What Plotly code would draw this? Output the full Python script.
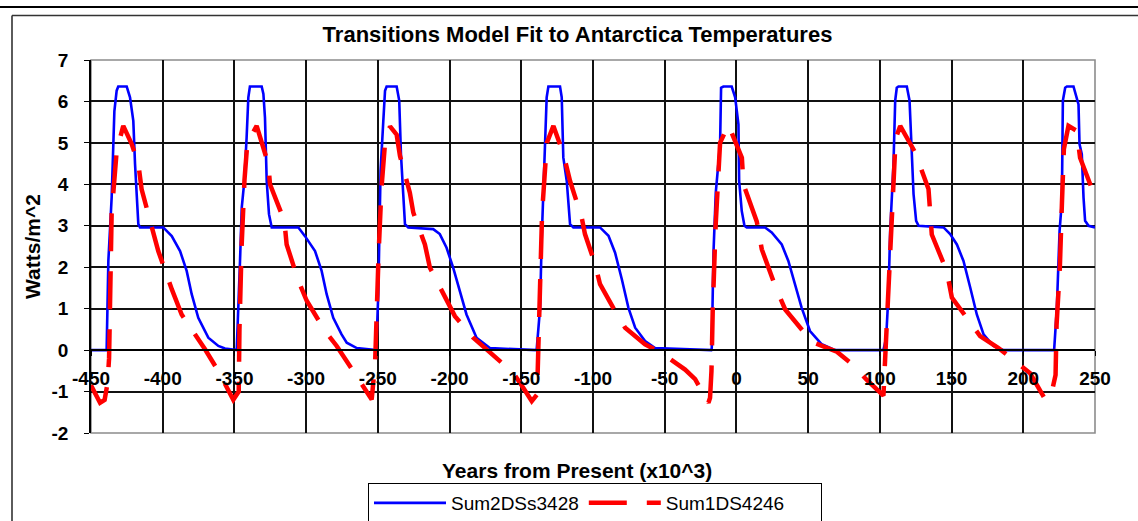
import plotly.graph_objects as go

# Sum2DSs3428 (blue, solid)
years_blue = [
    -450, -439.1, -437.9, -435.6, -433.7, -432.1, -431.0, -425.1, -422.8, -420.5,
    -419.3, -418.1, -417.0, -415.8, -399.6, -393.7, -387.9, -383.3, -379.8, -375.2,
    -368.2, -361.2, -356.6, -348.4,
    -347.3, -346.1, -344.9, -343.1, -341.5, -340.3, -339.2, -331.0, -329.8, -328.7,
    -327.5, -325.9, -324.0, -305.4, -300.8, -293.8, -289.2, -285.7, -281.1, -275.3,
    -271.7, -264.7, -251.3,
    -250.8, -249.7, -249.0, -248.1, -246.2, -245.0, -243.9, -236.9, -235.1, -233.9,
    -232.3, -231.1, -228.8, -211.4, -206.8, -202.1, -197.5, -192.8, -188.2, -181.2,
    -171.9, -139.3,
    -136.9, -135.8, -134.6, -133.5, -132.3, -131.1, -123.0, -121.8, -120.7, -118.3,
    -116.0, -113.7, -95.1, -89.2, -84.6, -79.9, -75.3, -70.6, -63.7, -56.7, -17.6,
    -17.2, -16.0, -14.4, -11.4, -10.7, -9.1, -3.3, -0.9, 1.4, 1.9,
    3.7, 5.6, 7.2, 20.0, 24.6, 31.6, 36.2, 40.9, 45.5, 51.3, 59.5, 68.8, 102.5,
    104.4, 106.0, 107.2, 108.3, 109.5, 110.7, 111.8, 113.0, 118.8, 120.7,
    122.3, 123.5, 125.3, 127.0, 144.4, 149.0, 153.7, 158.3, 163.0, 167.6,
    172.3, 179.2, 186.2, 221.5,
    223.4, 225.3, 226.9, 227.6, 229.2, 230.4, 235.0, 237.3, 238.5, 239.2,
    240.8, 242.0, 243.1, 245.5, 250.0,
]
watts_blue = [
    0.0, 0.0, 2.15, 3.68, 5.77, 6.26, 6.36, 6.36, 6.10, 5.53,
    4.49, 3.68, 3.04, 2.96, 2.96, 2.75, 2.39, 1.91, 1.35, 0.78,
    0.30, 0.10, 0.04, 0.0,
    0.94, 2.15, 3.44, 4.08, 5.13, 6.10, 6.36, 6.36, 6.18, 5.61,
    4.08, 3.28, 2.96, 2.96, 2.75, 2.39, 1.91, 1.35, 0.78, 0.38,
    0.18, 0.05, 0.0,
    0.31, 1.36, 2.64, 4.33, 5.53, 6.26, 6.36, 6.36, 6.02, 4.73,
    3.76, 3.04, 2.96, 2.92, 2.80, 2.47, 1.99, 1.42, 0.86, 0.30,
    0.05, 0.0,
    1.02, 2.64, 3.92, 4.73, 6.10, 6.36, 6.36, 6.10, 4.65, 4.08,
    3.04, 2.96, 2.96, 2.76, 2.35, 1.71, 1.02, 0.54, 0.22, 0.05, 0.0,
    0.05, 2.35, 3.80, 4.97, 6.33, 6.36, 6.36, 6.10, 5.45, 4.08,
    3.36, 3.00, 2.96, 2.96, 2.84, 2.55, 2.15, 1.59, 1.02, 0.46, 0.14, 0.0, 0.0,
    0.30, 1.35, 2.87, 3.52, 4.49, 6.02, 6.33, 6.36, 6.36, 6.02,
    4.81, 3.76, 3.12, 3.00, 2.96, 2.80, 2.55, 2.15, 1.51, 0.86,
    0.38, 0.10, 0.0, 0.0,
    1.02, 2.87, 3.60, 6.02, 6.33, 6.36, 6.36, 6.10, 5.93, 4.97,
    4.73, 3.68, 3.12, 3.00, 2.96,
]

# Sum1DS4246 (red, dashed)
years_red = [
    -450.0, -443.7, -440.5, -438.5, -437.4, -436.7, -435.6, -432.1, -427.5, -421.6,
    -417.0, -414.7, -407.7, -403.1, -393.7, -386.8, -370.5, -361.2, -350.8,
    -347.0, -346.5, -345.0, -343.0, -341.0, -334.5, -326.4, -325.2, -315.2, -313.6,
    -305.4, -299.6, -286.8, -278.7, -263.6, -254.3,
    -251.9, -251.0, -249.5, -247.5, -245.0, -241.5, -236.9, -234.6, -227.7, -225.3,
    -217.2, -213.7, -202.1, -196.3, -183.5, -174.3, -155.6, -149.8, -142.7,
    -139.0, -138.5, -137.5, -135.5, -132.2, -127.6, -120.6, -116.0, -107.9, -105.6,
    -98.6, -95.1, -84.6, -77.6, -63.7, -52.1, -35.8, -28.8, -19.5,
    -18.4, -17.4, -16.5, -14.5, -11.4, -5.6, 3.8, 4.9, 14.2, 17.7,
    27.0, 34.0, 52.6, 70.0, 79.3, 90.9, 102.5,
    103.7, 105.5, 107.5, 109.5, 111.0, 114.2, 121.1, 124.6, 133.9, 136.2,
    146.6, 150.2, 169.9, 182.7, 204.8, 215.3,
    219.0, 222.5, 223.2, 225.5, 227.0, 228.3, 231.5, 237.3, 239.6, 248.9, 250.0,
]
watts_red = [
    -0.85, -1.27, -1.20, -0.80, -0.20, 1.50, 3.30, 4.80, 5.41, 4.97,
    4.49, 3.88, 2.96, 2.39, 1.47, 0.86, 0.02, -0.51, -1.20,
    -1.00, 0.50, 2.50, 4.10, 5.00, 5.41, 4.49, 4.00, 3.12, 2.55,
    1.67, 1.19, 0.46, 0.10, -0.71, -1.19,
    -0.30, 0.80, 2.30, 3.90, 5.00, 5.40, 5.20, 4.69, 3.80, 3.32,
    2.55, 1.99, 1.19, 0.82, 0.30, 0.02, -0.55, -0.85, -1.23,
    -1.07, -0.45, 1.50, 3.30, 5.00, 5.41, 4.73, 4.08, 3.20, 2.80,
    2.08, 1.59, 0.94, 0.54, 0.14, -0.07, -0.47, -0.70, -1.27,
    -1.15, -0.50, 1.00, 3.00, 5.00, 5.44, 4.64, 4.00, 3.10, 2.43,
    1.55, 0.98, 0.20, -0.04, -0.30, -0.72, -1.10,
    -0.20, 1.00, 2.40, 4.00, 5.10, 5.41, 4.97, 4.77, 3.89, 2.79,
    1.91, 1.27, 0.34, 0.05, -0.56, -1.19,
    -1.15, -0.60, 0.60, 2.00, 3.60, 4.85, 5.41, 5.29, 4.64, 3.76, 3.70,
]

x_ticks = list(range(-450, 251, 50))
x_labels = [str(v) for v in x_ticks]
y_ticks = list(range(-2, 8))
y_labels = [str(v) for v in y_ticks]

W, H = 1138, 521
L, R, T, B = 91, 43, 60, 88
FONT = "Liberation Sans, Arial, sans-serif"
NBSP = "\u00a0"


def px(x):
    return (x - L) / (W - L - R)


def py(y):
    return (H - B - y) / (H - T - B)


fig = go.Figure()
fig.add_trace(go.Scatter(
    x=years_blue, y=watts_blue, name="Sum2DSs3428", mode="lines",
    line=dict(color="#0000ff", width=2.6),
))
fig.add_trace(go.Scatter(
    # trailing no-break spaces pad the legend box on the right like the original
    x=years_red, y=watts_red, name="Sum1DS4246" + NBSP * 6, mode="lines",
    line=dict(color="#ff0000", width=4.5, dash="38px,20px"),
))

fig.update_layout(
    width=W, height=H,
    margin=dict(l=L, r=R, t=T, b=B, pad=0),
    paper_bgcolor="white",
    plot_bgcolor="white",
    font=dict(family=FONT, size=19, color="black"),
    title=dict(
        text="<b>Transitions Model Fit to Antarctica Temperatures</b>",
        x=px(577.5), xref="paper", xanchor="center",
        y=1 - 34 / H, yref="container", yanchor="middle",
        font=dict(size=22, color="black"),
    ),
    showlegend=True,
    legend=dict(
        orientation="h",
        x=px(368), xanchor="left",
        y=(H - 483) / H, yref="container", yanchor="top",
        bordercolor="black", borderwidth=1, bgcolor="white",
        font=dict(size=19, color="black"),
        itemwidth=72,
    ),
    xaxis=dict(
        range=[-450, 250], tickvals=x_ticks, ticktext=x_labels,
        tickfont=dict(size=19, color="black", weight="bold"),
        showgrid=True, gridcolor="#111111", gridwidth=1.6,
        zeroline=False,
        showline=True, linecolor="black", linewidth=1.6,
        ticks="outside", ticklen=5, tickcolor="black",
        ticklabelstandoff=6,
        anchor="free", position=2 / 9,
    ),
    yaxis=dict(
        range=[-2, 7], tickvals=y_ticks, ticktext=y_labels,
        tickfont=dict(size=19, color="black", weight="bold"),
        showgrid=True, gridcolor="#111111", gridwidth=1.6,
        zeroline=False,
        showline=True, linecolor="black", linewidth=1.6,
        ticks="outside", ticklen=5, tickcolor="black",
        ticklabelstandoff=12,
    ),
    annotations=[
        dict(text="<b>Watts/m^2</b>", xref="paper", yref="paper",
             x=px(32), y=py(247), xanchor="center", yanchor="middle",
             textangle=-90, showarrow=False, font=dict(size=21, color="black")),
        dict(text="<b>Years from Present (x10^3)</b>", xref="paper", yref="paper",
             x=px(576.5), y=py(470), xanchor="center", yanchor="middle",
             showarrow=False, font=dict(size=21, color="black")),
    ],
    shapes=[
        # plot-area frame
        dict(type="rect", xref="paper", yref="paper", x0=0, x1=1, y0=0, y1=1,
             line=dict(color="#8c8c8c", width=1.6), layer="between"),
        # outer chart frame
        dict(type="line", xref="paper", yref="paper",
             x0=px(0), x1=px(W), y0=py(7), y1=py(7),
             line=dict(color="black", width=2)),
        dict(type="line", xref="paper", yref="paper",
             x0=px(12), x1=px(W), y0=py(15.5), y1=py(15.5),
             line=dict(color="#333333", width=1.6)),
        dict(type="line", xref="paper", yref="paper",
             x0=px(12), x1=px(12), y0=py(15.5), y1=py(H),
             line=dict(color="#333333", width=1.6)),
    ],
)

# drop the default page margin so the figure sits at the window origin
fig.write_html(
    "out.html",
    config={"displayModeBar": False},
    post_script="document.body.style.margin = '0';",
)
